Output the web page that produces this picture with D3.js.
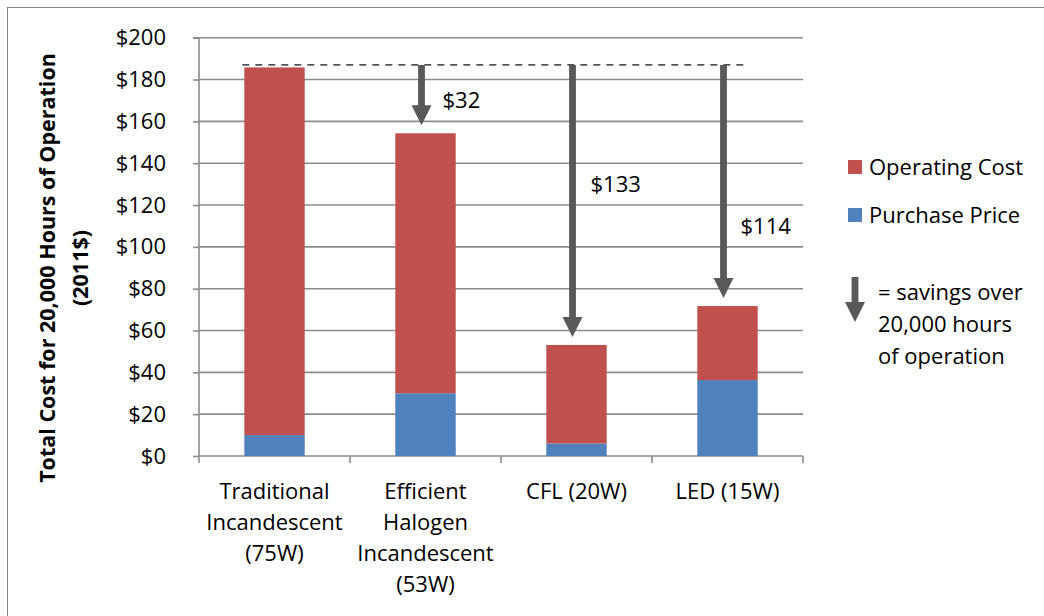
<!DOCTYPE html>
<html><head><meta charset="utf-8">
<script src="https://cdn.jsdelivr.net/npm/d3@7"></script>
<style>html,body{margin:0;padding:0;background:#fff;} svg{display:block;}</style>
</head><body>
<svg id="chart" width="1044" height="616"></svg>
<script>
const categories = ["Traditional|Incandescent|(75W)", "Efficient|Halogen|Incandescent|(53W)", "CFL (20W)", "LED (15W)"];
const purchasePrice = [10, 30, 6, 36.3];
const operatingCost = [175.8, 124.3, 47.1, 35.4];
const savings = ["$32", "$133", "$114"];
const baselineLevel = 187;
const yTicks = [0, 20, 40, 60, 80, 100, 120, 140, 160, 180, 200];
const seriesNames = ["Operating Cost", "Purchase Price"];
const colors = {op: "#C0504D", pp: "#4F81BD", arrow: "#595959", grid: "#8c8c8c"};

const svg = d3.select("#chart");
const font = "'Open Sans', sans-serif";
const fs = 22;
const plot = {left: 199, right: 803, top: 37.7, bottom: 456};

svg.append("rect").attr("x", 7.5).attr("y", 7.5).attr("width", 1060).attr("height", 640)
  .attr("fill", "#fff").attr("stroke", "#868686").attr("stroke-width", 1);

const x = d3.scaleBand().domain(categories).range([plot.left, plot.right]).paddingInner(0.6).paddingOuter(0.3);
const xb = d3.scaleBand().domain(categories).range([plot.left, plot.right]).padding(0);
const y = d3.scaleLinear().domain([0, 200]).range([plot.bottom, plot.top]);

// gridlines
svg.append("g").selectAll("line").data(yTicks.filter(d => d > 0)).join("line")
  .attr("x1", plot.left).attr("x2", plot.right).attr("y1", d => y(d)).attr("y2", d => y(d))
  .attr("stroke", colors.grid).attr("stroke-width", 1.6);

// y axis
const yAxis = d3.axisLeft(y).tickValues(yTicks).tickSize(6).tickPadding(27).tickFormat(d => "$" + d);
const gy = svg.append("g").attr("transform", `translate(${plot.left},0)`).call(yAxis);
gy.select(".domain").attr("stroke", colors.grid).attr("stroke-width", 1.6).attr("d", `M-6,${y(200)}H0V${y(0)}`);
gy.selectAll(".tick line").attr("stroke", colors.grid).attr("stroke-width", 1.6);
gy.selectAll(".tick text").attr("font-family", font).attr("font-size", fs).attr("fill", "#000");

// x axis
const xAxis = d3.axisBottom(xb).tickSize(0).tickFormat("");
const gx = svg.append("g").attr("transform", `translate(0,${plot.bottom})`).call(xAxis);
gx.select(".domain").attr("stroke", colors.grid).attr("stroke-width", 1.6).attr("d", `M${plot.left},0H${plot.right}`);
gx.selectAll(".tick").remove();
const bounds = categories.map(c => xb(c)).concat([xb(categories[3]) + xb.bandwidth()]);
gx.selectAll("line.bt").data(bounds).join("line").attr("class", "bt")
  .attr("x1", d => d).attr("x2", d => d).attr("y1", 0).attr("y2", 7)
  .attr("stroke", colors.grid).attr("stroke-width", 1.6);

// x labels
categories.forEach(c => {
  const lines = c.split("|");
  const t = svg.append("text").attr("font-family", font).attr("font-size", fs).attr("text-anchor", "middle").attr("fill", "#000");
  lines.forEach((ln, i) => {
    t.append("tspan").attr("x", xb(c) + xb.bandwidth() / 2).attr("y", 499 + i * 31).text(ln);
  });
});

// bars
const stacked = categories.map((c, i) => ({c, pp: purchasePrice[i], op: operatingCost[i]}));
svg.append("g").selectAll("rect").data(stacked).join("rect")
  .attr("x", d => x(d.c)).attr("width", x.bandwidth())
  .attr("y", d => y(d.pp)).attr("height", d => y(0) - y(d.pp)).attr("fill", colors.pp);
svg.append("g").selectAll("rect").data(stacked).join("rect")
  .attr("x", d => x(d.c)).attr("width", x.bandwidth())
  .attr("y", d => y(d.pp + d.op)).attr("height", d => y(d.pp) - y(d.pp + d.op)).attr("fill", colors.op);

// dashed baseline
svg.append("line").attr("x1", x(categories[0]) - 2).attr("x2", x(categories[3]) + 46)
  .attr("y1", y(baselineLevel)).attr("y2", y(baselineLevel))
  .attr("stroke", "#555").attr("stroke-width", 1.6).attr("stroke-dasharray", "7,6");

// arrows
function arrow(cx, y0, y1) {
  const hw = 10, hh = 20, sw = 3.4;
  const p = `M${cx - sw},${y0}V${y1 - hh}H${cx - hw}L${cx},${y1}L${cx + hw},${y1 - hh}H${cx + sw}V${y0}Z`;
  svg.append("path").attr("d", p).attr("fill", colors.arrow);
}
const labelPos = [{dx: 21, v: 170}, {dx: 18, v: 130}, {dx: 17, v: 110}];
[1, 2, 3].forEach((i, k) => {
  const c = categories[i];
  const cx = x(c) + x.bandwidth() / 2 - 4;
  arrow(cx, y(baselineLevel), y(purchasePrice[i] + operatingCost[i]) - 8);
  svg.append("text").attr("x", cx + labelPos[k].dx).attr("y", y(labelPos[k].v)).attr("dy", "0.35em")
    .attr("font-family", font).attr("font-size", fs).attr("fill", "#000").text(savings[k]);
});

// legend
const leg = [{n: seriesNames[0], col: colors.op, y: 167}, {n: seriesNames[1], col: colors.pp, y: 215}];
leg.forEach(l => {
  svg.append("rect").attr("x", 848).attr("y", l.y - 7).attr("width", 14).attr("height", 14).attr("fill", l.col);
  svg.append("text").attr("x", 869).attr("y", l.y).attr("dy", "0.35em").attr("font-family", font).attr("font-size", fs).text(l.n);
});
arrow(855, 277, 322);
["= savings over", "20,000 hours", "of operation"].forEach((s, i) => {
  svg.append("text").attr("x", 878).attr("y", 292 + i * 32).attr("dy", "0.35em").attr("font-family", font).attr("font-size", fs).text(s);
});

// y title
const yt = svg.append("text").attr("transform", "translate(47,268) rotate(-90)")
  .attr("font-family", font).attr("font-size", 21.5).attr("font-weight", "bold").attr("text-anchor", "middle");
yt.append("tspan").attr("x", 0).attr("y", 0).attr("dy", "0.35em").text("Total Cost for 20,000 Hours of Operation");
yt.append("tspan").attr("x", 0).attr("y", 33).attr("dy", "0.35em").text("(2011$)");
</script>
</body></html>
